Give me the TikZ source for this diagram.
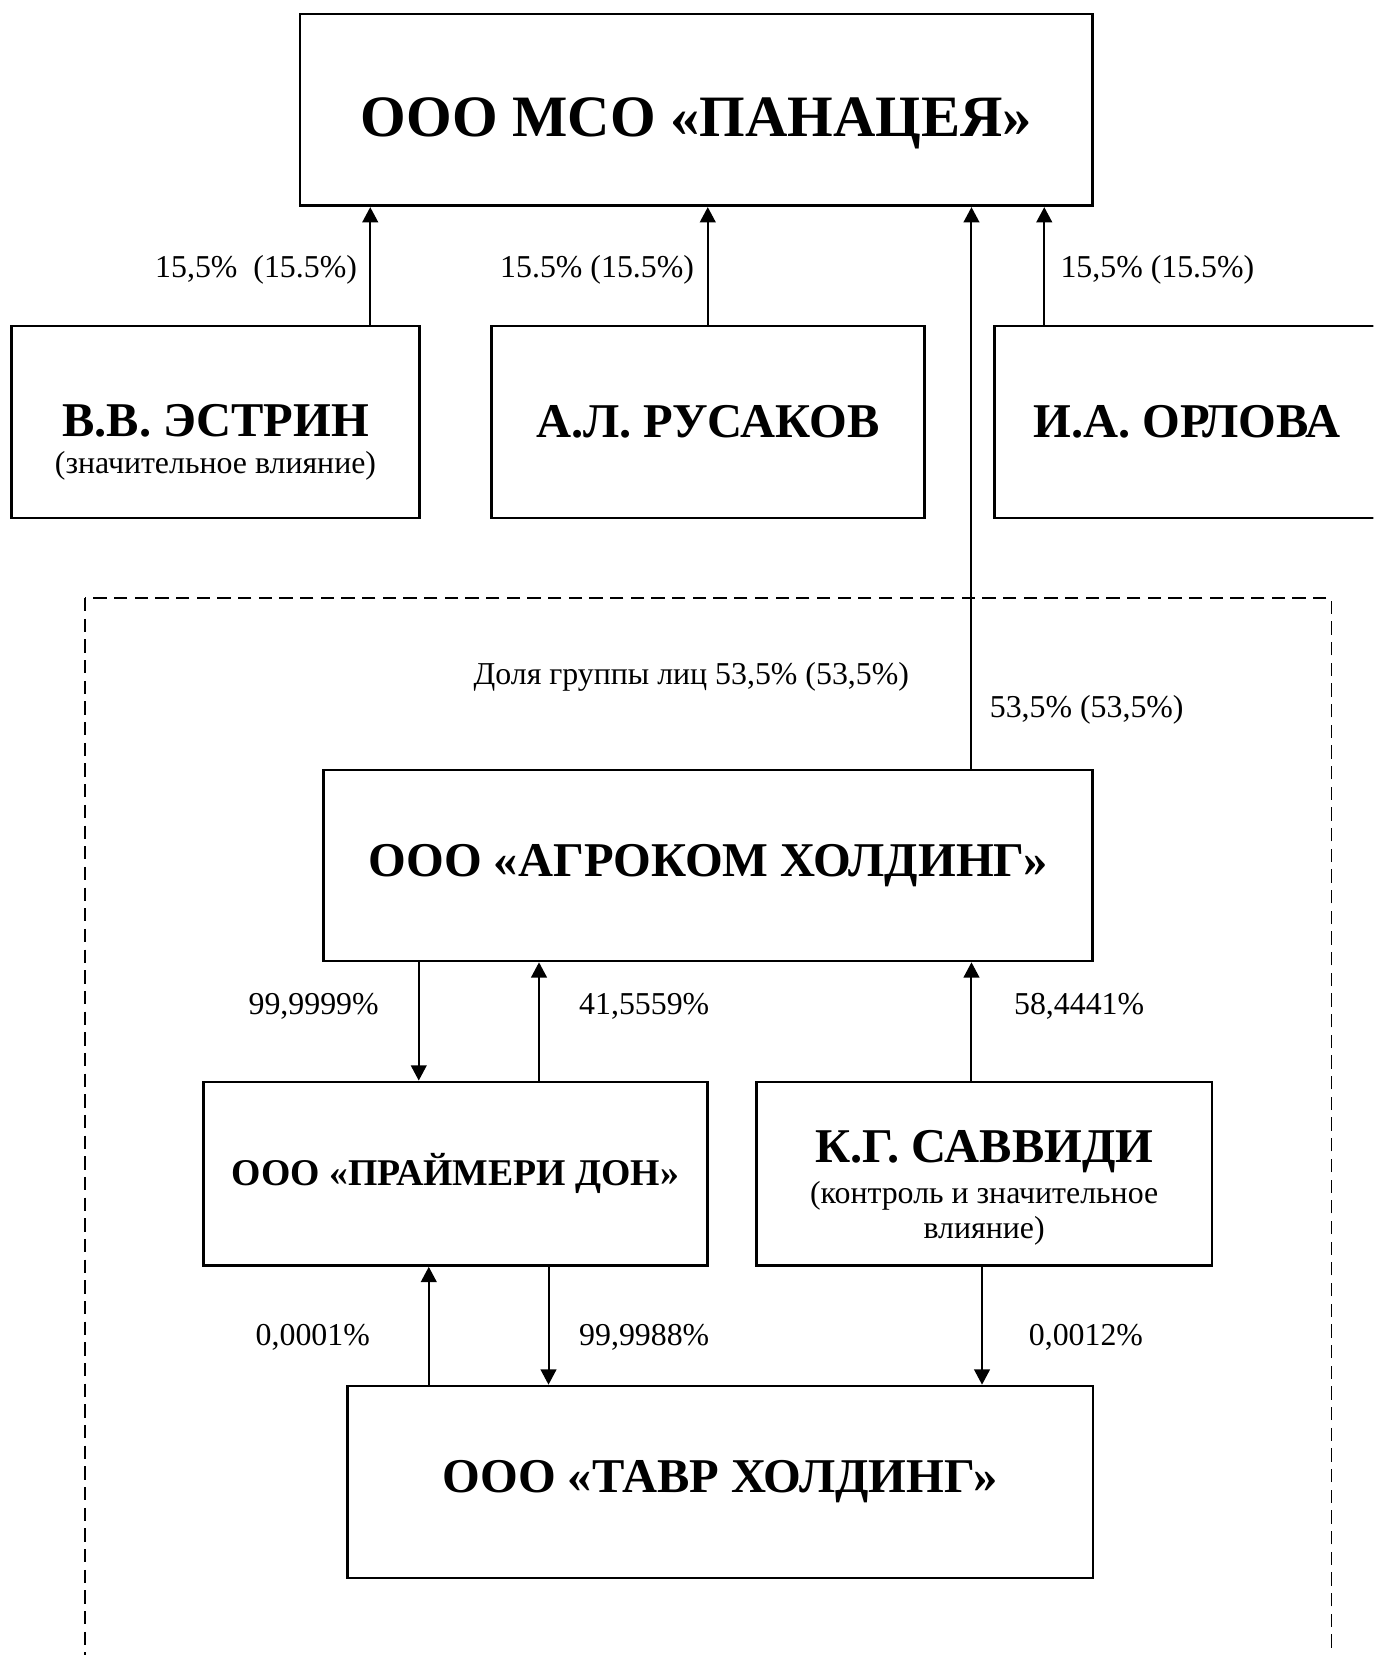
\documentclass[tikz,border=0pt]{standalone}
\usepackage{fontspec}
\setmainfont{Liberation Serif}
\usetikzlibrary{arrows.meta}

\newcommand{\headfont}{\fontsize{27.8}{32}\selectfont\bfseries}
\newcommand{\namefont}{\fontsize{23}{27}\selectfont\bfseries}
\newcommand{\firmfont}{\fontsize{17.9}{21}\selectfont\bfseries}
\newcommand{\notefont}{\fontsize{15.1}{18}\selectfont}

\tikzset{
  box/.style={draw, line width=1.3pt, inner sep=0pt},
  own/.style={line width=0.95pt, -{Triangle[length=7.2pt, width=7.4pt]}},
  share/.style={inner sep=0pt, font=\notefont},
  group/.style={line width=0.65pt, dash pattern=on 6.3pt off 3.5pt},
}

\begin{document}
\begin{tikzpicture}[x=0.5pt, y=-0.5pt]
    \useasboundingbox (0,0) rectangle (1302,1569);
    \clip (0,0) rectangle (1302,1569);

    % Группа лиц
    \draw[group] (80.6,567) rectangle (1262,1640);

    % Общество
    \node[box, minimum width=375.8pt, minimum height=90.85pt] (panacea) at (660.2,104.2) {};
    \node[anchor=base, inner sep=0pt, font=\headfont] (panaceaName) at (660.2,129.6) {ООО МСО «ПАНАЦЕЯ»};

    % Участники
    \node[box, minimum width=193.7pt, minimum height=91pt] (estrin) at (204.3,400) {};
    \node[anchor=base, inner sep=0pt, font=\namefont] (estrinName) at (204.3,414) {В.В. ЭСТРИН};
    \node[share, anchor=base] (estrinNote) at (204.3,449) {(значительное влияние)};
    \node[box, minimum width=205.3pt, minimum height=91pt, font=\namefont] (rusakov) at (671,400) {А.Л. РУСАКОВ};
    \node[box, minimum width=182.5pt, minimum height=91pt, font=\namefont] (orlova) at (1125.5,400) {И.А. ОРЛОВА};

    % Группа
    \node[box, minimum width=364.3pt, minimum height=90.5pt, font=\namefont] (agrocom) at (671.3,820.5) {ООО «АГРОКОМ ХОЛДИНГ»};
    \node[box, minimum width=238.75pt, minimum height=87pt, font=\firmfont] (primary) at (431.8,1112.7) {ООО «ПРАЙМЕРИ ДОН»};
    \node[box, minimum width=216pt, minimum height=87pt] (savvidi) at (933,1112.7) {};
    \node[anchor=base, inner sep=0pt, font=\namefont] (savvidiName) at (933,1102) {К.Г. САВВИДИ};
    \node[share, anchor=base] (savvidiNote1) at (933,1141) {(контроль и значительное};
    \node[share, anchor=base] (savvidiNote2) at (933,1174) {влияние)};
    \node[box, minimum width=353.2pt, minimum height=91pt, font=\namefont] (tavr) at (682.9,1405) {ООО «ТАВР ХОЛДИНГ»};

    % Линии владения
    \coordinate (e1) at (351,0);
    \coordinate (g1) at (921,0);
    \coordinate (o1) at (990,0);
    \coordinate (a1) at (397,0);
    \coordinate (a2) at (511,0);
    \coordinate (b1) at (406.5,0);
    \coordinate (b2) at (520,0);
    \coordinate (s2) at (931,0);
    \draw[own] (estrin.north -| e1) -- (panacea.south -| e1);
    \draw[own] (rusakov.north) -- (rusakov.north |- panacea.south);
    \draw[own] (agrocom.north -| g1) -- (panacea.south -| g1);
    \draw[own] (orlova.north -| o1) -- (panacea.south -| o1);
    \draw[own] (agrocom.south -| a1) -- (primary.north -| a1);
    \draw[own] (primary.north -| a2) -- (agrocom.south -| a2);
    \draw[own] (savvidi.north -| g1) -- (agrocom.south -| g1);
    \draw[own] (tavr.north -| b1) -- (primary.south -| b1);
    \draw[own] (primary.south -| b2) -- (tavr.north -| b2);
    \draw[own] (savvidi.south -| s2) -- (tavr.north -| s2);

    % Доли
    \node[share, anchor=base east] (estrinShare) at (338.8,263) {15,5\%\ \ (15.5\%)};
    \node[share, anchor=base east] (rusakovShare) at (658.3,263) {15.5\% (15.5\%)};
    \node[share, anchor=base west] (orlovaShare) at (1005,263) {15,5\% (15.5\%)};
    \node[share, anchor=base] (groupShare) at (655.4,648.6) {Доля группы лиц 53,5\% (53,5\%)};
    \node[share, anchor=base west] (agrocomShare) at (938,680.4) {53,5\% (53,5\%)};
    \node[share, anchor=base east] (primaryShare) at (359.4,961.6) {99,9999\%};
    \node[share, anchor=base west] (primaryBack) at (548.7,961.6) {41,5559\%};
    \node[share, anchor=base west] (savvidiShare) at (961,961.6) {58,4441\%};
    \node[share, anchor=base east] (tavrBack) at (351,1275.5) {0,0001\%};
    \node[share, anchor=base west] (tavrShare) at (548.7,1275.5) {99,9988\%};
    \node[share, anchor=base west] (tavrSavvidi) at (975,1275.5) {0,0012\%};
\end{tikzpicture}
\end{document}
